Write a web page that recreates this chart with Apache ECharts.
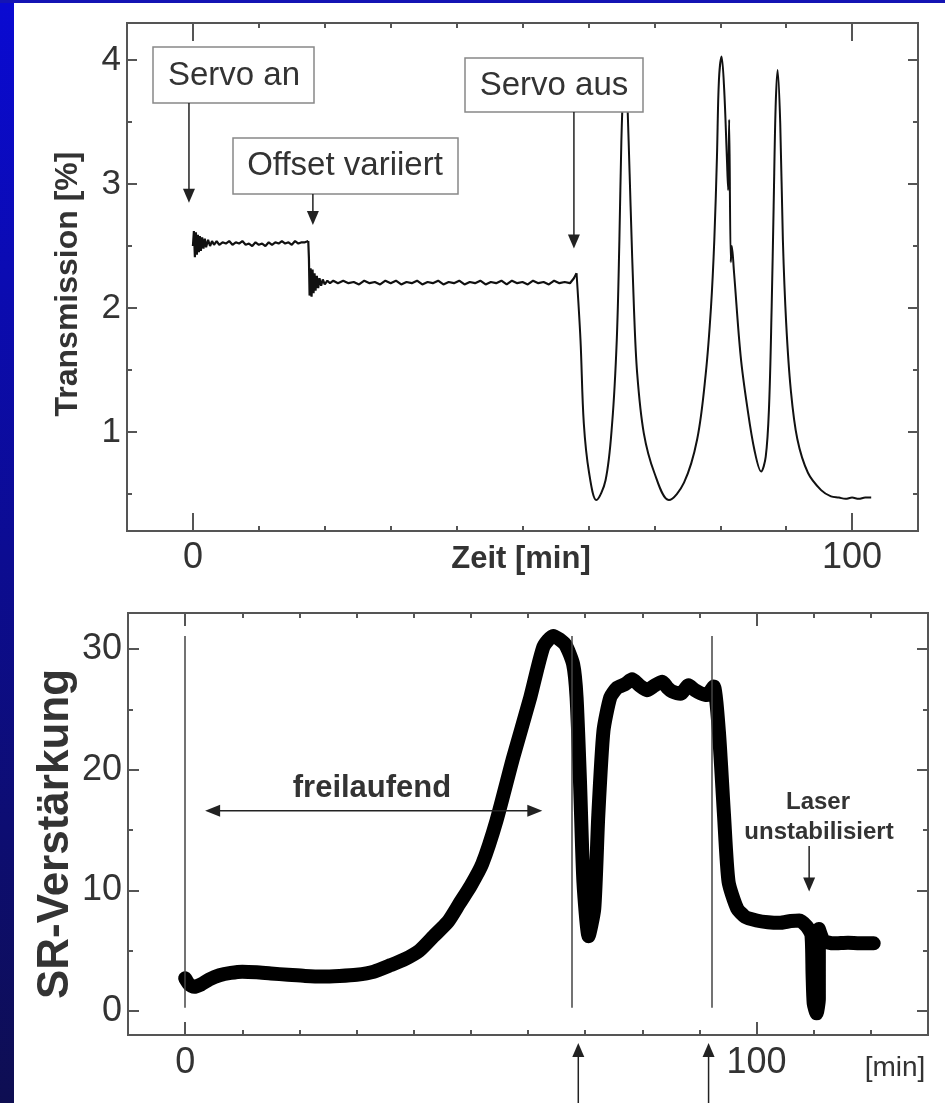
<!DOCTYPE html>
<html>
<head>
<meta charset="utf-8">
<style>
  html, body { margin: 0; padding: 0; background: #fff; }
  #chart { width: 945px; height: 1103px; }
</style>
<script src="https://cdn.jsdelivr.net/npm/echarts@6/dist/echarts.min.js"></script>
</head>
<body>
<div id="chart"></div>
<script>
// ---- top panel: Transmission [%] over Zeit [min] ----
const servoOnTrace = [
  [0.0, 2.50], [0.15, 2.62], [0.3, 2.41], [0.45, 2.61], [0.6, 2.43], [0.75, 2.59], [0.9, 2.45],
  [1.05, 2.58], [1.2, 2.46], [1.4, 2.57], [1.6, 2.48], [1.8, 2.56], [2.0, 2.49], [2.3, 2.55],
  [2.6, 2.50], [2.9, 2.54], [3.2, 2.51], [3.6, 2.54], [4.0, 2.51], [4.5, 2.53], [5.0, 2.52],
  [5.5, 2.54], [6.0, 2.51], [6.5, 2.53], [7.0, 2.52], [7.5, 2.54], [8.0, 2.51], [8.5, 2.52],
  [9.0, 2.50], [9.5, 2.53], [10.0, 2.51], [10.5, 2.52], [11.0, 2.50], [11.5, 2.53], [12.0, 2.51],
  [12.5, 2.53], [13.0, 2.52], [13.5, 2.54], [14.0, 2.52], [14.5, 2.53], [15.0, 2.51], [15.5, 2.54],
  [16.0, 2.52], [16.5, 2.53], [17.0, 2.53], [17.5, 2.54]
];
const offsetTrace = [
  [17.5, 2.54], [17.6, 2.40], [17.7, 2.10], [17.85, 2.32], [18.0, 2.09], [18.15, 2.31], [18.3, 2.12],
  [18.45, 2.28], [18.6, 2.14], [18.8, 2.26], [19.0, 2.16], [19.2, 2.24], [19.45, 2.18], [19.7, 2.23],
  [20.0, 2.19], [20.4, 2.22], [20.8, 2.20], [21.3, 2.22], [22.0, 2.20], [22.8, 2.22], [23.6, 2.20],
  [24.4, 2.21], [25.2, 2.19], [26.0, 2.22], [26.8, 2.20], [27.6, 2.21], [28.4, 2.19], [29.2, 2.22],
  [30.0, 2.20], [30.8, 2.22], [31.6, 2.19], [32.4, 2.21], [33.2, 2.20], [34.0, 2.22], [34.8, 2.19],
  [35.6, 2.21], [36.4, 2.20], [37.2, 2.22], [38.0, 2.19], [38.8, 2.21], [39.6, 2.20], [40.4, 2.22],
  [41.2, 2.19], [42.0, 2.21], [42.8, 2.20], [43.6, 2.22], [44.4, 2.19], [45.2, 2.21], [46.0, 2.20],
  [46.8, 2.22], [47.6, 2.19], [48.4, 2.22], [49.2, 2.20], [50.0, 2.21], [50.8, 2.19], [51.6, 2.22],
  [52.4, 2.20], [53.2, 2.21], [54.0, 2.19], [54.8, 2.22], [55.6, 2.20], [56.4, 2.21], [57.2, 2.20],
  [57.8, 2.24], [58.2, 2.28]
];
const freeRunTrace = [
  [58.2, 2.28], [58.8, 1.74], [59.3, 1.07], [60.1, 0.67], [61.2, 0.45], [62.6, 0.61], [63.6, 1.07],
  [64.3, 1.74], [64.7, 2.55], [65.0, 3.35], [65.3, 3.80], [65.55, 3.95], [65.8, 3.80], [66.1, 3.35],
  [66.4, 2.82], [66.9, 2.01], [67.4, 1.47], [68.4, 0.99], [70.0, 0.67], [72.2, 0.45], [74.5, 0.59],
  [76.5, 0.94], [77.8, 1.47], [78.6, 2.01], [79.1, 2.55], [79.5, 3.22], [79.8, 3.84], [80.2, 4.03],
  [80.6, 3.76], [81.0, 3.22], [81.2, 2.95], [81.35, 3.52], [81.6, 2.37], [81.75, 2.50], [82.1, 2.28],
  [83.1, 1.61], [84.1, 1.20], [85.2, 0.85], [86.2, 0.68], [86.9, 0.80], [87.4, 1.20], [87.8, 2.01],
  [88.1, 2.82], [88.4, 3.62], [88.7, 3.92], [89.1, 3.49], [89.5, 2.55], [90.0, 1.88], [90.7, 1.34],
  [91.7, 0.94], [93.3, 0.67], [95.3, 0.53], [96.8, 0.48], [98.0, 0.47], [99.0, 0.46], [100.0, 0.47],
  [101.0, 0.46], [102.0, 0.47], [102.9, 0.47]
];
const topXLabels = [0, 100];
const topXMinor = [10, 20, 30, 40, 50, 60, 70, 80, 90];
const topYLabels = [1, 2, 3, 4];
const topYMinor = [0.5, 1.5, 2.5, 3.5];

// ---- bottom panel: SR-Verstärkung over time [min] ----
const gainTrace = [
  [0, 2.7], [0.7, 2.2], [1.6, 2.0], [2.8, 2.2], [4.2, 2.6], [6, 2.95], [8, 3.15], [10, 3.25],
  [12.5, 3.2], [15, 3.1], [18, 3.0], [21, 2.9], [24, 2.85], [27, 2.9], [30, 3.0], [33, 3.25],
  [36, 3.8], [38.5, 4.3], [41, 5.0], [43.5, 6.2], [46, 7.4], [48, 8.9], [50, 10.4], [52, 12.2],
  [54.5, 15.8], [57.4, 21], [60.4, 26], [62.7, 30.2], [64.4, 31.1], [66.5, 30.4], [67.9, 28.75],
  [68.5, 26], [69.1, 19], [69.7, 10.7], [70.6, 6.2], [71.6, 8.5], [72.3, 16.2], [73.2, 23.2],
  [74.4, 26], [75.6, 26.8], [77, 27.1], [78.2, 27.5], [79.5, 27.0], [80.8, 26.6], [82.2, 27.0],
  [83.5, 27.3], [84.4, 26.8], [85.2, 26.5], [86.7, 26.3], [88.1, 27.0], [89.2, 26.6], [90.2, 26.35],
  [91.3, 26.2], [92.5, 26.9], [93.4, 23.2], [94.3, 16.25], [95.1, 10.7], [96.6, 8.5], [98, 7.8],
  [100, 7.5], [102, 7.35], [104, 7.3], [106, 7.45], [107.5, 7.5], [108.8, 7.0], [109.6, 6.3],
  [109.8, 3.0], [110.0, 0.6], [110.5, -0.2], [110.9, 1.0], [110.9, 6.8], [111.8, 5.8], [113.5, 5.6],
  [116, 5.65], [118, 5.6], [120.5, 5.6]
];
const markerTimes = [0, 67.7, 92.2];
const markerRange = [0.25, 31.1];
const bottomXLabels = [0, 100];
const bottomXMinor = [10, 20, 30, 40, 50, 60, 70, 80, 90, 110, 120];
const bottomYLabels = [0, 10, 20, 30];
const bottomYMinor = [5, 15, 25];

const FONT = "'Liberation Sans', Arial, sans-serif";
const TICK = { color: '#555', width: 2 };

// four axes per direction: major/minor ticks on both edges, only the first one labelled
function edgeAxes(dim, gridIndex, min, max, major, minor, majorLen, minorLen, label) {
  const sides = dim === 'x' ? ['bottom', 'top'] : ['left', 'right'];
  const axes = [];
  sides.forEach((position, s) => {
    [[major, majorLen], [minor, minorLen]].forEach(([vals, len], k) => {
      axes.push({
        type: 'value',
        gridIndex,
        position,
        min,
        max,
        axisLine: { show: false, onZero: false },
        splitLine: { show: false },
        axisTick: { show: true, inside: true, length: len, customValues: vals, lineStyle: TICK },
        axisLabel: s === 0 && k === 0
          ? Object.assign({ customValues: vals, color: '#333', fontFamily: FONT }, label)
          : { show: false }
      });
    });
  });
  return axes;
}

const chart = echarts.init(document.getElementById('chart'));

const xAxes = [].concat(
  edgeAxes('x', 0, -10, 110, topXLabels, topXMinor, 18, 5, { fontSize: 36, margin: 9 }),
  edgeAxes('x', 1, -10, 130, bottomXLabels, bottomXMinor, 13, 5, { fontSize: 36, margin: 10 })
);
const yAxes = [].concat(
  edgeAxes('y', 0, 0.2, 4.3, topYLabels, topYMinor, 10, 5, { fontSize: 35, margin: 6 }),
  edgeAxes('y', 1, -2, 33, bottomYLabels, bottomYMinor, 11, 5, { fontSize: 36, margin: 6 })
);

chart.setOption({
  backgroundColor: '#fff',
  animation: false,
  grid: [
    { left: 127, top: 23, width: 791, height: 508, show: true, borderColor: '#555', borderWidth: 2, backgroundColor: 'transparent' },
    { left: 128, top: 613, width: 800, height: 422, show: true, borderColor: '#555', borderWidth: 2, backgroundColor: 'transparent' }
  ],
  xAxis: xAxes,
  yAxis: yAxes,
  series: [
    {
      type: 'line', xAxisIndex: 0, yAxisIndex: 0, data: servoOnTrace,
      symbol: 'none', lineStyle: { color: '#111', width: 2.2 }
    },
    {
      type: 'line', xAxisIndex: 0, yAxisIndex: 0, data: offsetTrace,
      symbol: 'none', lineStyle: { color: '#111', width: 2.2 }
    },
    {
      type: 'line', xAxisIndex: 0, yAxisIndex: 0, data: freeRunTrace,
      symbol: 'none', smooth: 0.35, lineStyle: { color: '#111', width: 2 }
    },
    {
      type: 'line', xAxisIndex: 4, yAxisIndex: 4, data: gainTrace,
      symbol: 'none', smooth: 0.2,
      lineStyle: { color: '#000', width: 14, cap: 'round', join: 'round' },
      markLine: {
        silent: true,
        symbol: 'none',
        label: { show: false },
        lineStyle: { color: '#444', width: 1.5, type: 'solid' },
        data: markerTimes.map((t) => [{ coord: [t, markerRange[0]] }, { coord: [t, markerRange[1]] }])
      }
    }
  ]
});

// ---- annotations ----
const topPx = (x, y) => chart.convertToPixel({ xAxisIndex: 0, yAxisIndex: 0 }, [x, y]);
const botPx = (x, y) => chart.convertToPixel({ xAxisIndex: 4, yAxisIndex: 4 }, [x, y]);

function textEl(x, y, text, font, rotation) {
  return {
    type: 'text', x, y, rotation: rotation || 0, z: 110,
    style: { text, font, fill: '#333', textAlign: 'center', textVerticalAlign: 'middle' }
  };
}
function boxEl(x1, y1, x2, y2) {
  return {
    type: 'rect', z: 100,
    shape: { x: x1, y: y1, width: x2 - x1, height: y2 - y1 },
    style: { fill: '#fff', stroke: '#888', lineWidth: 1.5 }
  };
}
function vArrow(x, yFrom, yTip) {
  const dir = yTip > yFrom ? 1 : -1;
  return [
    { type: 'line', z: 100, shape: { x1: x, y1: yFrom, x2: x, y2: yTip - dir * 8 }, style: { stroke: '#222', lineWidth: 1.5 } },
    { type: 'polygon', z: 100, shape: { points: [[x - 6, yTip - dir * 14], [x + 6, yTip - dir * 14], [x, yTip]] }, style: { fill: '#222' } }
  ];
}

const servoAnX = topPx(-0.6, 2.85);
const offsetX = topPx(18.2, 2.67);
const servoAusX = topPx(57.8, 2.48);
const freiL = botPx(3.5, 16.6);
const freiR = botPx(62.5, 16.6);
const laserTip = botPx(109.2, 9.9);

const els = [
  { type: 'rect', z: 1, shape: { x: 0, y: 0, width: 14, height: 1103 },
    style: { fill: new echarts.graphic.LinearGradient(0, 0, 0, 1, [
      { offset: 0, color: '#0a0ad2' }, { offset: 1, color: '#0e0e52' }]) } },
  { type: 'rect', z: 1, shape: { x: 0, y: 0, width: 945, height: 3 }, style: { fill: '#1414b4' } },

  boxEl(153, 47, 314, 103), textEl(234, 76, 'Servo an', '33px ' + FONT),
  boxEl(233, 138, 458, 194), textEl(345, 166, 'Offset variiert', '33px ' + FONT),
  boxEl(465, 58, 643, 112), textEl(554, 86, 'Servo aus', '33px ' + FONT),
  ...vArrow(servoAnX[0], 103, servoAnX[1]),
  ...vArrow(offsetX[0], 194, offsetX[1]),
  ...vArrow(servoAusX[0], 112, servoAusX[1]),

  textEl(68, 284, 'Transmission [%]', 'bold 32px ' + FONT, Math.PI / 2),
  textEl(521, 559, 'Zeit [min]', 'bold 31px ' + FONT),

  textEl(56, 834, 'SR-Verstärkung', 'bold 44px ' + FONT, Math.PI / 2),
  textEl(895, 1068, '[min]', '28px ' + FONT),
  textEl(372, 788, 'freilaufend', 'bold 31px ' + FONT),
  { type: 'line', z: 100, shape: { x1: freiL[0] + 8, y1: freiL[1], x2: freiR[0] - 8, y2: freiR[1] }, style: { stroke: '#222', lineWidth: 1.5 } },
  { type: 'polygon', z: 100, shape: { points: [[freiL[0], freiL[1]], [freiL[0] + 15, freiL[1] - 6], [freiL[0] + 15, freiL[1] + 6]] }, style: { fill: '#222' } },
  { type: 'polygon', z: 100, shape: { points: [[freiR[0], freiR[1]], [freiR[0] - 15, freiR[1] - 6], [freiR[0] - 15, freiR[1] + 6]] }, style: { fill: '#222' } },
  textEl(818, 802, 'Laser', 'bold 24px ' + FONT),
  textEl(819, 832, 'unstabilisiert', 'bold 24px ' + FONT),
  ...vArrow(laserTip[0], 846, laserTip[1]),
  ...vArrow(botPx(68.8, 0)[0], 1103, 1043),
  ...vArrow(botPx(91.6, 0)[0], 1103, 1043)
];

chart.setOption({ graphic: { elements: els } });
</script>
</body>
</html>
